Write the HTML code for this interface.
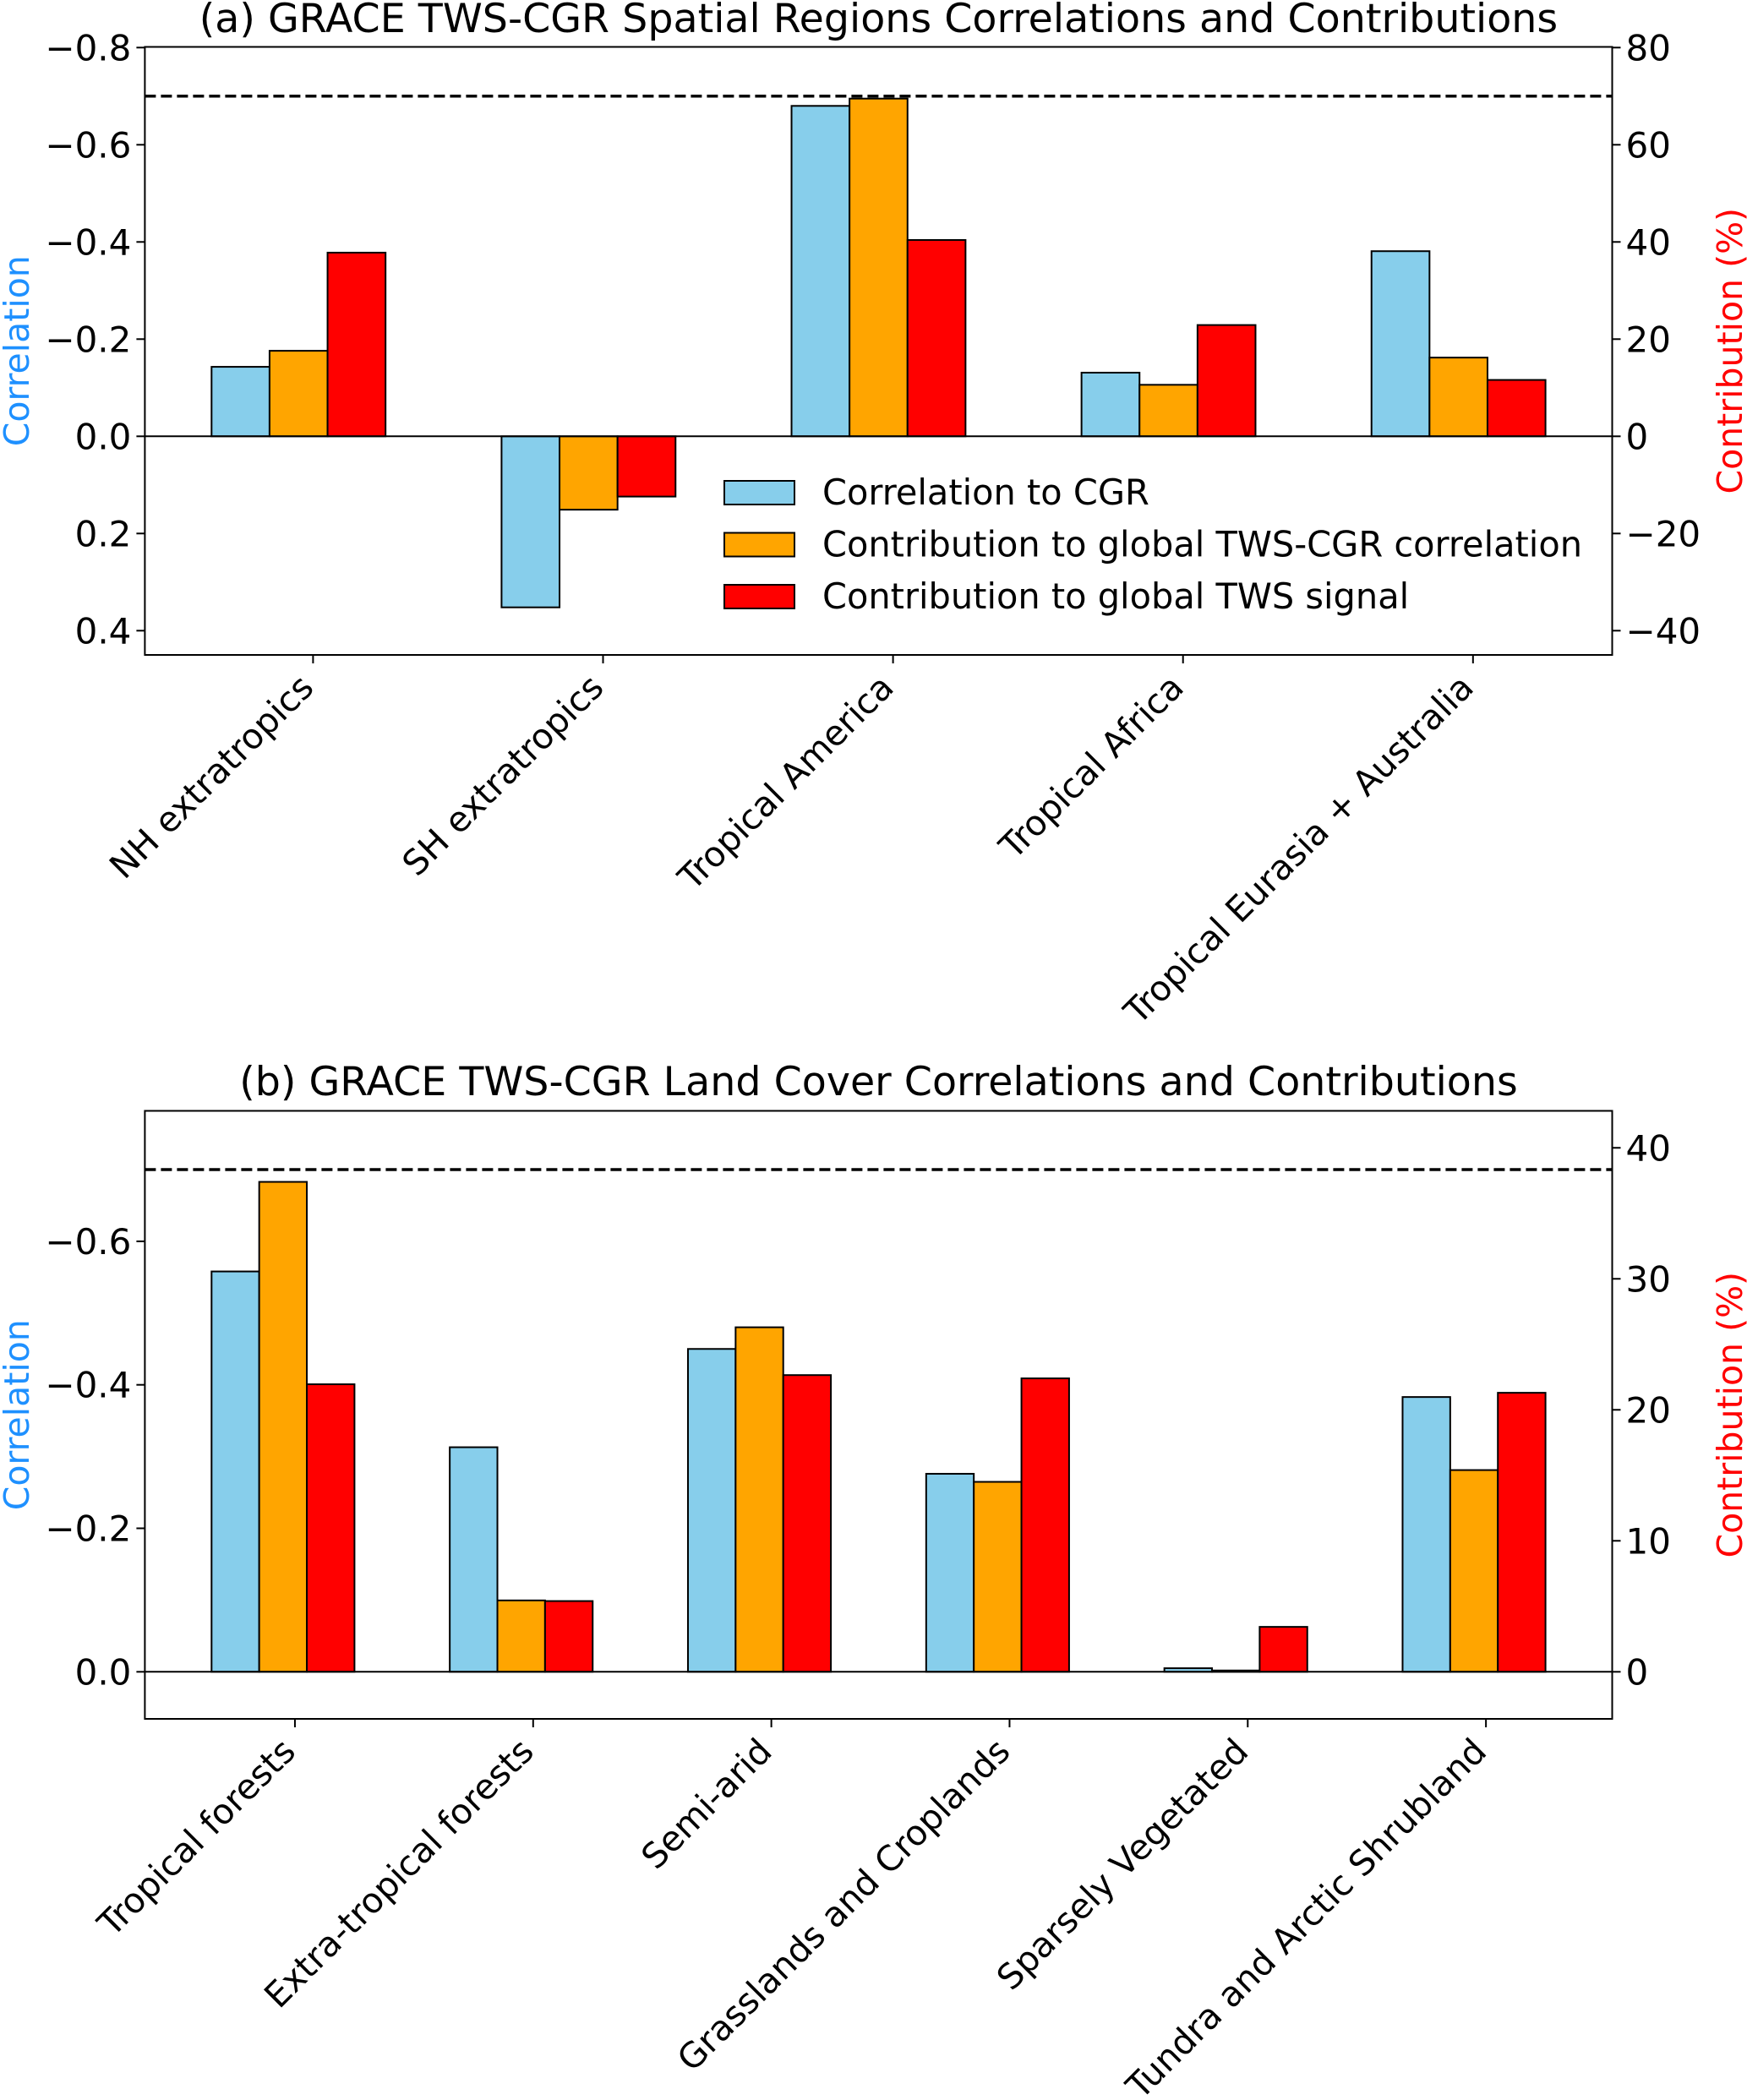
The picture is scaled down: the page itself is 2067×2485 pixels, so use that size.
<!DOCTYPE html>
<html><head><meta charset="utf-8"><style>
html,body{margin:0;padding:0;background:#fff;}
svg{display:block;font-family:"DejaVu Sans","Liberation Sans",sans-serif;}
</style></head><body>
<svg id="chart" width="2067" height="2485" viewBox="0 0 2067 2485" xmlns="http://www.w3.org/2000/svg"></svg>
<script>
// Panel (a) data
const catsA = ["NH extratropics","SH extratropics","Tropical America","Tropical Africa","Tropical Eurasia + Australia"];
const corrA = [-0.143, 0.352, -0.680, -0.131, -0.381];
const contribCorrA = [17.6, -15.1, 69.5, 10.6, 16.2];
const contribSigA = [37.8, -12.4, 40.4, 22.9, 11.6];
const leftTicksA = [-0.8, -0.6, -0.4, -0.2, 0.0, 0.2, 0.4];
const leftTickLabelsA = ["\u22120.8","\u22120.6","\u22120.4","\u22120.2","0.0","0.2","0.4"];
const rightTicksA = [80, 60, 40, 20, 0, -20, -40];
const rightTickLabelsA = ["80","60","40","20","0","\u221220","\u221240"];
// Panel (b) data
const catsB = ["Tropical forests","Extra-tropical forests","Semi-arid","Grasslands and Croplands","Sparsely Vegetated","Tundra and Arctic Shrubland"];
const corrB = [-0.558, -0.313, -0.450, -0.276, -0.005, -0.383];
const contribCorrB = [37.4, 5.45, 26.3, 14.5, 0.1, 15.4];
const contribSigB = [21.95, 5.4, 22.65, 22.4, 3.43, 21.3];
const leftTicksB = [-0.6, -0.4, -0.2, 0.0];
const leftTickLabelsB = ["\u22120.6","\u22120.4","\u22120.2","0.0"];
const rightTicksB = [40, 30, 20, 10, 0];
const rightTickLabelsB = ["40","30","20","10","0"];
const thresholdCorr = -0.7;
const legendLabels = ["Correlation to CGR","Contribution to global TWS-CGR correlation","Contribution to global TWS signal"];
const colors = ["#87ceeb","#ffa500","#ff0000"];

const NS = "http://www.w3.org/2000/svg";
const svg = document.getElementById('chart');
function mk(tag, attrs, parent){ const e=document.createElementNS(NS,tag); for(const k in attrs) e.setAttribute(k,attrs[k]); (parent||svg).appendChild(e); return e; }

function panel(cfg){
  const g = mk('g',{});
  
  
  const L=171.4, R=1907.5, T=cfg.top, B=cfg.bottom;
  const n=cfg.cats.length;
  const margin=0.05*(n-1+0.6);
  const xmin=-0.35-margin, xmax=(n-1)+0.25+margin;
  const xs = v => L + (v - xmin)/(xmax-xmin)*(R-L);
  const yc = v => cfg.zeroY + v*cfg.pxPerCorr;
  const yp = v => cfg.zeroY - v*cfg.pxPerCorr/cfg.pctPerCorr;
  const t = mk('text',{x:(L+R)/2, y:cfg.titleY, 'text-anchor':'middle','font-size':47.5, fill:'#000'}, g);
  t.textContent = cfg.title;
  
  
  const series=[cfg.corr.map(v=>yc(v)), cfg.cc.map(v=>yp(v)), cfg.cs.map(v=>yp(v))];
  const sNames=['bar-correlation','bar-contribution-correlation','bar-contribution-signal'];
  for(let s=0;s<3;s++){
    for(let i=0;i<n;i++){
      const x0=xs(i-0.35+0.2*s), x1=xs(i-0.15+0.2*s);
      const yv=series[s][i], y0=Math.min(yv,cfg.zeroY), h=Math.abs(yv-cfg.zeroY);
      const r=mk('rect',{x:x0,y:y0,width:x1-x0,height:Math.max(h,0.5),fill:colors[s],stroke:'#000','stroke-width':2},g);
      
      
    }
  }
  const z=mk('line',{x1:L,x2:R,y1:cfg.zeroY,y2:cfg.zeroY,stroke:'#000','stroke-width':2},g);
  
  
  const d=mk('line',{x1:L,x2:R,y1:yc(thresholdCorr),y2:yc(thresholdCorr),stroke:'#000','stroke-width':3.5,'stroke-dasharray':'13,6'},g);
  
  
  const f=mk('rect',{x:L,y:T,width:R-L,height:B-T,fill:'none',stroke:'#000','stroke-width':2},g);
  
  
  cfg.lt.forEach((v,i)=>{
    const y=yc(v);
    mk('line',{x1:L-10,x2:L,y1:y,y2:y,stroke:'#000','stroke-width':2},g);
    const tx=mk('text',{x:L-16,y:y+15,'text-anchor':'end','font-size':42},g);
    tx.textContent=cfg.ltl[i];
    
    
  });
  cfg.rt.forEach((v,i)=>{
    const y=yp(v);
    mk('line',{x1:R,x2:R+10,y1:y,y2:y,stroke:'#000','stroke-width':2},g);
    const tx=mk('text',{x:R+16,y:y+15,'text-anchor':'start','font-size':42},g);
    tx.textContent=cfg.rtl[i];
    
    
  });
  cfg.cats.forEach((c,i)=>{
    const x=xs(i);
    mk('line',{x1:x,x2:x,y1:B,y2:B+10,stroke:'#000','stroke-width':2},g);
    const tx=mk('text',{transform:`translate(${x-18},${B+20}) rotate(-45)`,'text-anchor':'end','font-size':41,dy:'0.72em'},g);
    tx.textContent=c;
    
    
  });
  const yl=mk('text',{transform:`translate(34,${(T+B)/2}) rotate(-90)`,'text-anchor':'middle','font-size':41,fill:'#1e90ff'},g);
  yl.textContent='Correlation';
  
  
  const yr=mk('text',{transform:`translate(2061,${(T+B)/2}) rotate(-90)`,'text-anchor':'middle','font-size':41,fill:'#ff0000'},g);
  yr.textContent='Contribution (%)';
  
  
  return g;
}

panel({name:'panel-a', title:'(a) GRACE TWS-CGR Spatial Regions Correlations and Contributions', titleY:38,
  top:55.5, bottom:775, zeroY:516.3, pxPerCorr:575, pctPerCorr:100,
  cats:catsA, corr:corrA, cc:contribCorrA, cs:contribSigA,
  lt:leftTicksA, ltl:leftTickLabelsA, rt:rightTicksA, rtl:rightTickLabelsA});
panel({name:'panel-b', title:'(b) GRACE TWS-CGR Land Cover Correlations and Contributions', titleY:1296,
  top:1314.5, bottom:2034, zeroY:1978.3, pxPerCorr:849, pctPerCorr:54.77,
  cats:catsB, corr:corrB, cc:contribCorrB, cs:contribSigB,
  lt:leftTicksB, ltl:leftTickLabelsB, rt:rightTicksB, rtl:rightTickLabelsB});

const lg = mk('g',{});


legendLabels.forEach((lab,i)=>{
  const cy = 583 + i*61.5;
  const r=mk('rect',{x:857,y:cy-14,width:83,height:28,fill:colors[i],stroke:'#000','stroke-width':2},lg);
  
  
  const t=mk('text',{x:973,y:cy+14,'font-size':41.5},lg);
  t.textContent=lab;
  
  
});
</script>
</body></html>
